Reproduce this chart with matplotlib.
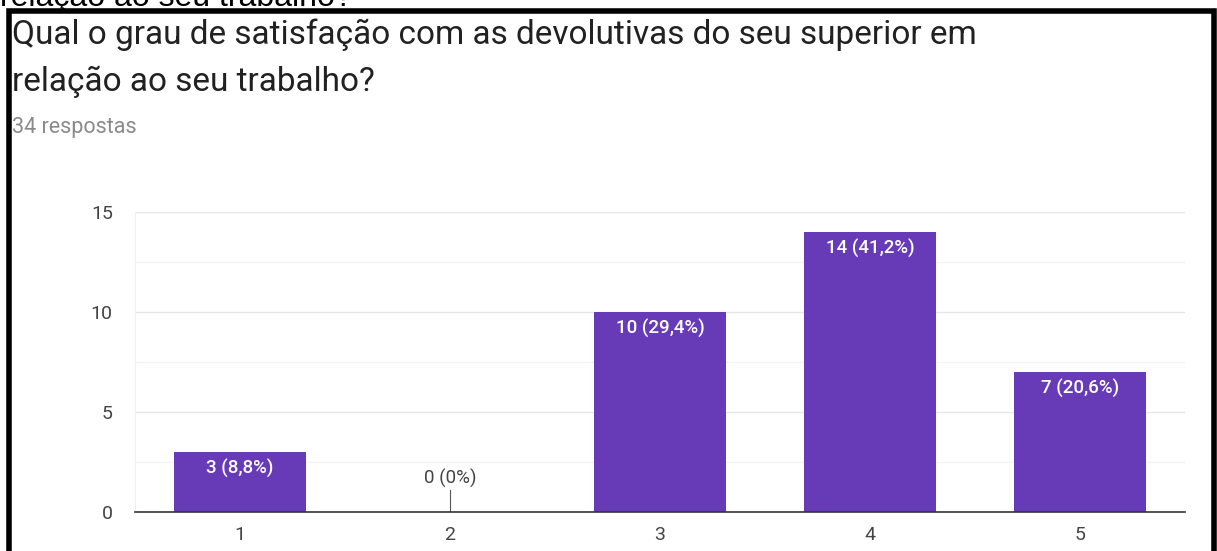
import matplotlib.pyplot as plt
from matplotlib.patches import Rectangle

plt.rcParams['font.family'] = ['Roboto', 'DejaVu Sans']

categorias = ["1", "2", "3", "4", "5"]
respostas = [3, 0, 10, 14, 7]
percentuais = ["8,8%", "0%", "29,4%", "41,2%", "20,6%"]
total = 34
pergunta = "Qual o grau de satisfação com as devolutivas do seu superior em\nrelação ao seu trabalho?"

roxo = "#673AB7"

fig = plt.figure(figsize=(12.17, 5.51), dpi=100)
ax = fig.add_axes([135 / 1217, 1 - 512 / 551, 1050 / 1217, 300 / 551])

x = range(len(categorias))
ax.bar(x, respostas, width=0.625, color=roxo, zorder=3)

for i, (v, p) in enumerate(zip(respostas, percentuais)):
    rotulo = f"{v} ({p})"
    if v > 0:
        ax.text(i, v - 0.35, rotulo, ha="center", va="top", color="white",
                fontsize=13.5, fontweight="medium", zorder=4)
    else:
        ax.plot([i, i], [0, 1.1], color="#555555", lw=0.8, zorder=4)
        ax.text(i, 1.2, rotulo, ha="center", va="bottom", color="#444444",
                fontsize=13.5, zorder=4)

ax.set_xlim(-0.5, len(categorias) - 0.5)
ax.set_ylim(0, 15)
ax.set_xticks(list(x))
ax.set_xticklabels(categorias)
ax.set_yticks([0, 5, 10, 15])
ax.set_yticks([2.5, 7.5, 12.5], minor=True)
ax.tick_params(axis="both", which="both", length=0, labelsize=14,
               labelcolor="#444444")
ax.tick_params(axis="x", pad=10)
ax.tick_params(axis="y", pad=16)
ax.grid(axis="y", which="major", color="#e6e6e6", lw=1, zorder=0)
ax.grid(axis="y", which="minor", color="#f3f3f3", lw=1, zorder=0)
for lado in ["top", "right"]:
    ax.spines[lado].set_visible(False)
ax.spines["left"].set_color("#f0f0f0")
ax.spines["bottom"].set_color("#333333")
ax.spines["bottom"].set_linewidth(1.2)
ax.spines["bottom"].set_zorder(5)

# cabeçalho do formulário
fig.text(12 / 1217, 1 - 19 / 551, pergunta, ha="left", va="top",
         fontsize=24, color="#212121", linespacing=1.55)
fig.text(12 / 1217, 1 - 127 / 551, f"{total} respostas", ha="left",
         va="center", fontsize=15.5, color="#8a8a8a")
# linha anterior, cortada pela borda superior
fig.text(0, 1 - 6 / 551, "relação ao seu trabalho?", ha="left",
         va="baseline", fontsize=23, color="#000000",
         family=["Liberation Sans", "DejaVu Sans"])

# moldura preta
fig.patches.append(Rectangle((9 / 1217, -0.05), 1205 / 1217, 1.05 - 11.5 / 551,
                             transform=fig.transFigure, fill=False,
                             edgecolor="black", lw=4))

fig.savefig("out.png", dpi=100, facecolor="white")
